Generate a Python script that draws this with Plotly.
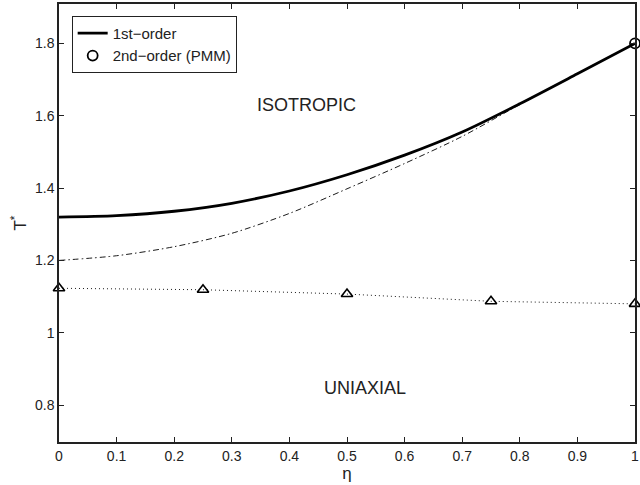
import plotly.graph_objects as go

# ---- data ----
eta = [0.0, 0.1, 0.2, 0.3, 0.4, 0.5, 0.6, 0.7, 0.8, 0.9, 1.0]
t_first_order = [1.320, 1.324, 1.336, 1.358, 1.392, 1.437, 1.491, 1.555, 1.633, 1.716, 1.800]
t_dashdot = [1.200, 1.213, 1.238, 1.275, 1.330, 1.398, 1.468, 1.543, 1.631, 1.716, 1.800]

eta_tri = [0.0, 0.25, 0.5, 0.75, 1.0]
t_tri = [1.123, 1.119, 1.107, 1.087, 1.080]

eta_pmm = [1.0]
t_pmm = [1.80]

x_ticks = [0, 0.1, 0.2, 0.3, 0.4, 0.5, 0.6, 0.7, 0.8, 0.9, 1]
x_ticklabels = ["0", "0.1", "0.2", "0.3", "0.4", "0.5", "0.6", "0.7", "0.8", "0.9", "1"]
y_ticks = [0.8, 1.0, 1.2, 1.4, 1.6, 1.8]
y_ticklabels = ["0.8", "1", "1.2", "1.4", "1.6", "1.8"]

FONT = "Liberation Sans, Arial, Helvetica, sans-serif"
INK = "#222"

fig = go.Figure()

fig.add_trace(go.Scatter(
    x=eta, y=t_dashdot, mode="lines", showlegend=False,
    line=dict(color="black", width=0.9, dash="6px,3px,1.5px,3px", shape="spline", smoothing=0.8),
))
fig.add_trace(go.Scatter(
    x=eta_tri, y=t_tri, mode="lines+markers", showlegend=False,
    line=dict(color="black", width=0.9, dash="1px,3px"),
    marker=dict(symbol="triangle-up-open", size=10, color="black", line=dict(width=1.6)),
    cliponaxis=False,
))
fig.add_trace(go.Scatter(
    x=eta, y=t_first_order, mode="lines", name="1st\u2212order",
    line=dict(color="black", width=2.8, shape="spline", smoothing=0.8),
))
fig.add_trace(go.Scatter(
    x=eta_pmm, y=t_pmm, mode="markers", name="2nd\u2212order (PMM)",
    marker=dict(symbol="circle-open", size=10, color="black", line=dict(width=1.8)),
    cliponaxis=False,
))

fig.add_annotation(x=0.429, y=1.629, text="ISOTROPIC", showarrow=False,
                   font=dict(family=FONT, size=18, color=INK))
fig.add_annotation(x=0.531, y=0.848, text="UNIAXIAL", showarrow=False,
                   font=dict(family=FONT, size=18, color=INK))

axis_common = dict(
    showline=True, linecolor=INK, linewidth=1.5, mirror="ticks",
    ticks="inside", ticklen=5, tickcolor=INK, tickwidth=1,
    showgrid=False, zeroline=False, ticklabeloverflow="allow",
    tickfont=dict(family=FONT, size=14, color=INK),
)

fig.update_xaxes(range=[0, 1], tickvals=x_ticks, ticktext=x_ticklabels,
                 title=dict(text="\u03b7", font=dict(family=FONT, size=17, color=INK), standoff=1),
                 **axis_common)
fig.update_yaxes(range=[0.698, 1.909], tickvals=y_ticks, ticktext=y_ticklabels,
                 title=dict(text="T<sup>*</sup>", font=dict(family=FONT, size=17, color=INK), standoff=4),
                 **axis_common)

fig.update_layout(
    width=640, height=485,
    margin=dict(l=59, r=1, t=4, b=43),
    paper_bgcolor="white", plot_bgcolor="white",
    font=dict(family=FONT, size=14, color=INK),
    legend=dict(
        x=0.022, y=0.973, xanchor="left", yanchor="top",
        bgcolor="white", bordercolor=INK, borderwidth=1,
        font=dict(family=FONT, size=15, color=INK),
        tracegroupgap=0, itemwidth=30,
    ),
)

fig.write_html("out.html")
